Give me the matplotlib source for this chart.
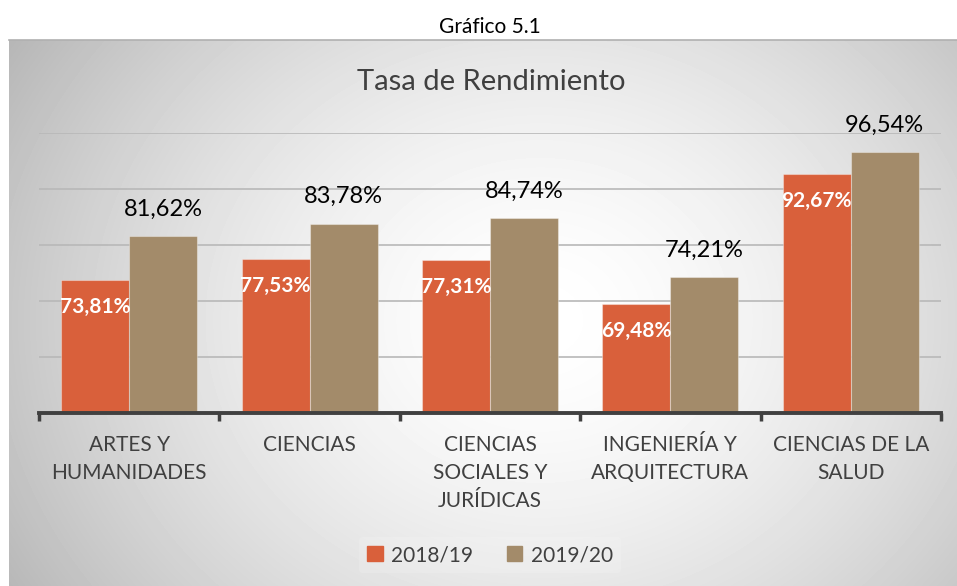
import numpy as np
import matplotlib
matplotlib.use('Agg')
import matplotlib.pyplot as plt
from matplotlib.patches import Patch

plt.rcParams['font.family'] = ['Lato', 'DejaVu Sans']

categories = ['ARTES Y\nHUMANIDADES', 'CIENCIAS', 'CIENCIAS\nSOCIALES Y\nJURÍDICAS',
              'INGENIERÍA Y\nARQUITECTURA', 'CIENCIAS DE LA\nSALUD']
rend_1819 = [73.81, 77.53, 77.31, 69.48, 92.67]
rend_1920 = [81.62, 83.78, 84.74, 74.21, 96.54]
series_names = ['2018/19', '2019/20']

c_orange = '#D9603B'
c_tan = '#A38B6A'
c_text = '#404040'

W, H = 957, 586
fig = plt.figure(figsize=(W / 100, H / 100), dpi=100)

# radial gray gradient behind the chart frame
bg = fig.add_axes([9 / W, 0, (W - 9) / W, (H - 40) / H])
bg.set_zorder(-2)
yy, xx = np.mgrid[40:H, 9:W]
r = np.hypot((xx - 540) / 1.0, (yy - 320) / 0.85)
g = 1 - 0.24 * np.clip(r / 560, 0, 1.2) ** 1.6
bg.imshow(g, cmap='gray', vmin=0, vmax=1, aspect='auto', interpolation='bilinear')
bg.axis('off')
fig.add_artist(plt.Line2D([9 / W, 1], [1 - 40 / H, 1 - 40 / H], color='#b0b0b0', lw=1.2))

ax = fig.add_axes([39 / W, 1 - 413 / H, (941 - 39) / W, (413 - 133) / H])
ax.set_facecolor('none')

x = np.arange(len(categories))
w = 0.377
b1 = ax.bar(x - w / 2, rend_1819, w, color=c_orange, edgecolor=(1, 1, 1, 0.35), lw=0.8, zorder=3)
b2 = ax.bar(x + w / 2, rend_1920, w, color=c_tan, edgecolor=(1, 1, 1, 0.35), lw=0.8, zorder=3)

def fmt(v):
    return f'{v:.2f}%'.replace('.', ',')

for rect, v in zip(b1, rend_1819):
    ax.annotate(fmt(v), (rect.get_x() + rect.get_width() / 2, v), xytext=(0, -19.5),
                textcoords='offset points', ha='center', va='center',
                color='white', fontsize=15, fontweight='bold', zorder=5)
for rect, v in zip(b2, rend_1920):
    ax.annotate(fmt(v), (rect.get_x() + rect.get_width() / 2, v), xytext=(0, 19.5),
                textcoords='offset points', ha='center', va='center',
                color='black', fontsize=17, zorder=5)

ax.set_ylim(50, 100)
ax.set_xlim(-0.5, len(categories) - 0.5)
ax.set_yticks([60, 70, 80, 90, 100])
ax.yaxis.grid(True, color='#b8b8b8', lw=1.2, zorder=0)
ax.tick_params(axis='y', length=0, labelleft=False)

ax.set_xticks(x)
ax.set_xticklabels(categories, color=c_text, fontsize=15, linespacing=1.5)
ax.set_xticks(np.arange(-0.5, len(categories)), minor=True)
ax.tick_params(axis='x', which='major', length=0, pad=16)
ax.tick_params(axis='x', which='minor', length=6, width=2.5, color=c_text)
for lab in ax.get_xticklabels():
    lab.set_verticalalignment('top')

for s in ['top', 'right', 'left']:
    ax.spines[s].set_visible(False)
ax.spines['bottom'].set_color(c_text)
ax.spines['bottom'].set_linewidth(2.8)
ax.spines['bottom'].set_zorder(4)

fig.text(490 / W, 1 - 27 / H, 'Gráfico 5.1', ha='center', va='center', fontsize=15, color='black')
fig.text(491 / W, 1 - 82 / H, 'Tasa de Rendimiento', ha='center', va='center', fontsize=21, color=c_text)

handles = [Patch(color=c_orange, label=series_names[0]), Patch(color=c_tan, label=series_names[1])]
leg = fig.legend(handles=handles, loc='center', bbox_to_anchor=(490 / W, 1 - 555 / H), ncol=2,
                 fontsize=15, frameon=True, facecolor='white', framealpha=0.15, edgecolor='none',
                 handlelength=0.75, handleheight=0.75,
                 handletextpad=0.4, columnspacing=1.6, borderpad=0.4)
for t in leg.get_texts():
    t.set_color(c_text)

fig.savefig('out.png', dpi=100)
